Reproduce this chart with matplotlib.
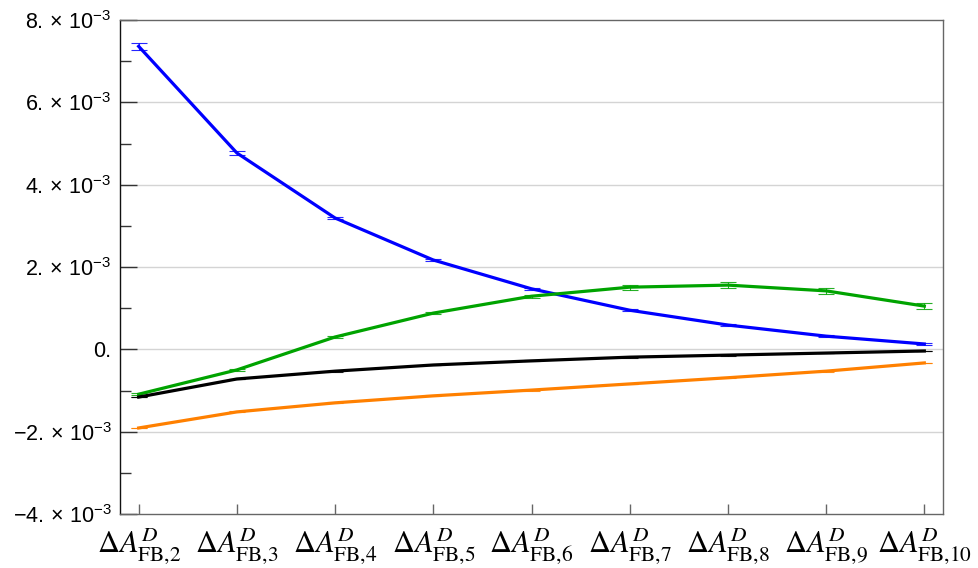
import numpy as np
import matplotlib
matplotlib.use("Agg")
import matplotlib.pyplot as plt
from matplotlib.ticker import FixedLocator

plt.rcParams['font.family'] = ['Liberation Sans', 'DejaVu Sans']
plt.rcParams['mathtext.fontset'] = 'custom'
plt.rcParams['mathtext.rm'] = 'Liberation Sans'
plt.rcParams['mathtext.it'] = 'Liberation Sans:italic'

# data (units of 1e-3)
labels = [r"$\Delta A^{D}_{\mathrm{FB}{,}%d}$" % k for k in range(2, 11)]
blue = [7.36, 4.77, 3.19, 2.17, 1.47, 0.95, 0.59, 0.32, 0.13]
blue_err = [0.08, 0.04, 0.03, 0.02, 0.02, 0.02, 0.02, 0.02, 0.02]
green = [-1.09, -0.50, 0.30, 0.88, 1.29, 1.51, 1.56, 1.42, 1.05]
green_err = [0.02, 0.02, 0.03, 0.03, 0.04, 0.06, 0.07, 0.07, 0.07]
black = [-1.16, -0.72, -0.53, -0.38, -0.28, -0.19, -0.14, -0.09, -0.04]
black_err = [0.01, 0.01, 0.01, 0.01, 0.01, 0.01, 0.01, 0.01, 0.01]
orange = [-1.91, -1.52, -1.30, -1.13, -0.99, -0.84, -0.69, -0.53, -0.33]
orange_err = [0.01, 0.01, 0.01, 0.01, 0.01, 0.01, 0.01, 0.01, 0.01]

series = [
    (blue, blue_err, "#0000ff"),
    (green, green_err, "#00a300"),
    (black, black_err, "#000000"),
    (orange, orange_err, "#ff8000"),
]

fig = plt.figure(figsize=(9.79, 5.68), dpi=100)
ax = fig.add_axes([120/979, 54/568, 823/979, 494/568])

x = np.arange(len(labels))
for vals, errs, col in series:
    v = np.array(vals) * 1e-3
    e = np.array(errs) * 1e-3
    ax.plot(x, v, color=col, lw=2.3, zorder=3)
    ax.errorbar(x, v, yerr=e, fmt='none', ecolor=col, elinewidth=0.8,
                capsize=6, capthick=0.8, zorder=3, alpha=0.85)

ax.set_xlim(-0.19, 8.19)
ax.set_ylim(-4e-3, 8e-3)

major = [-4e-3, -2e-3, 0, 2e-3, 4e-3, 6e-3, 8e-3]
ax.yaxis.set_major_locator(FixedLocator(major))
ax.yaxis.set_minor_locator(FixedLocator([-3e-3, -1e-3, 1e-3, 3e-3, 5e-3, 7e-3]))
ylabs = []
for m in major:
    k = int(round(m * 1e3))
    if k == 0:
        ylabs.append("0.")
    else:
        s = "\u2212" if k < 0 else ""
        ylabs.append(s + "%d.$\\,\\times\\,$10$^{-3}$" % abs(k))
ax.set_yticklabels(ylabs, fontsize=15.5)

ax.set_xticks(x)
ax.set_xticklabels(labels)
for t in ax.get_xticklabels():
    t.set_fontsize(22)
    t.set_math_fontfamily('stix')

for g in major[1:-1]:
    ax.axhline(g, color="#d4d4d4", lw=1, zorder=1)

ax.tick_params(axis='y', which='major', direction='in', length=12, width=1, color='#333333', pad=6)
ax.tick_params(axis='y', which='minor', direction='in', length=8, width=1, color='#333333')
ax.tick_params(axis='x', which='major', direction='in', length=7, width=1, color='#666666', pad=8)

ax.spines['left'].set_color('#111111')
for s in ['bottom', 'top', 'right']:
    ax.spines[s].set_color('#666666')
for s in ax.spines.values():
    s.set_linewidth(1)

fig.savefig("out.png", dpi=100)
